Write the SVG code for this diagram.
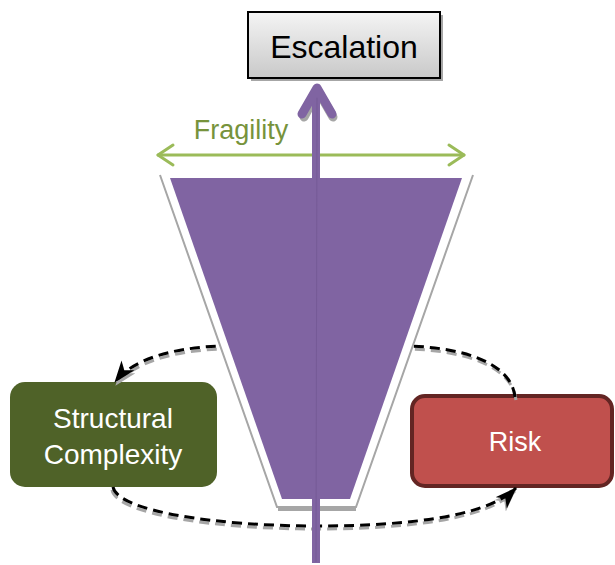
<svg xmlns="http://www.w3.org/2000/svg" width="615" height="565" viewBox="0 0 615 565">
<defs>
<style>
.t{font-family:"Liberation Sans",Arial,sans-serif;text-anchor:middle}
.dash{fill:none;stroke:#000;stroke-width:3;stroke-dasharray:10 6}
.dsh{fill:none;stroke:#a6a6a6;stroke-width:3;stroke-dasharray:10 6}
</style>
<linearGradient id="gEsc" x1="0" y1="0" x2="0" y2="1">
<stop offset="0" stop-color="#f4f4f4"/>
<stop offset="1" stop-color="#c9c9c9"/>
</linearGradient>
<marker id="ah" viewBox="0 0 22 16" refX="21" refY="8" markerWidth="22" markerHeight="16" markerUnits="userSpaceOnUse" orient="auto">
<path d="M0,0 L22,8 L0,16 L6,8 z" fill="#000"/>
</marker>
<marker id="ahs" viewBox="0 0 22 16" refX="21" refY="8" markerWidth="22" markerHeight="16" markerUnits="userSpaceOnUse" orient="auto">
<path d="M0,0 L22,8 L0,16 L6,8 z" fill="#a6a6a6"/>
</marker>
<path id="arcTop" d="M515,397 C511,362 462,348 410,346 L220,346 C170,348 132,360 115,382"/>
<path id="arcBot" d="M113,487 C118,512 220,526 316,526 C420,526 490,514 516,488"/>
</defs>
<rect width="615" height="565" fill="#fff"/>

<g id="structural-complexity">
<rect x="10" y="382" width="207" height="105" rx="15" fill="#4f6228"/>
<text class="t" x="113" y="428" font-size="28" fill="#fff">Structural</text>
<text class="t" x="113" y="464" font-size="28" fill="#fff">Complexity</text>
</g>

<g id="risk">
<rect x="412" y="396" width="200" height="90" rx="13" fill="#c0504d" stroke="#632523" stroke-width="4"/>
<text class="t" x="515" y="451" font-size="27" fill="#fff">Risk</text>
</g>

<g id="connectors">
<use href="#arcTop" class="dsh" transform="translate(1,3)" marker-end="url(#ahs)"/>
<use href="#arcTop" class="dash" marker-end="url(#ah)"/>
<use href="#arcBot" class="dsh" transform="translate(-1,3)" marker-end="url(#ahs)"/>
<use href="#arcBot" class="dash" marker-end="url(#ah)"/>
</g>

<g id="funnel">
<polygon points="160,175 277,508 356,508 473,175" fill="#fff"/>
<polyline points="160,175 277,507 356,507 473,175" fill="none" stroke="#a6a6a6" stroke-width="2"/>
<line x1="278" y1="509.5" x2="356" y2="509.5" stroke="#a6a6a6" stroke-width="3"/>
<polygon points="170,178 462,178 350,499 282,499" fill="#8064a2"/>
</g>

<g id="fragility">
<g fill="none" stroke="#9bbb59" stroke-width="3" stroke-linecap="round" stroke-linejoin="round">
<line x1="158" y1="155" x2="464" y2="155"/>
<polyline points="173,145 158,155 173,165"/>
<polyline points="449,145 464,155 449,165"/>
</g>
<text class="t" x="241" y="139" font-size="27" fill="#77933c">Fragility</text>
</g>

<g id="escalation">
<rect x="251" y="15" width="192" height="66" fill="#a6a6a6"/>
<rect x="248" y="12" width="192" height="66" fill="url(#gEsc)" stroke="#000" stroke-width="2"/>
<text class="t" x="344" y="58" font-size="32" fill="#000">Escalation</text>
</g>

<g id="escalation-arrow">
<polyline points="304,117 318,91 333,117" fill="none" stroke="#a6a6a6" stroke-width="9" stroke-linecap="round" stroke-linejoin="round"/>
<line x1="316" y1="90" x2="316" y2="563" stroke="#8064a2" stroke-width="8"/>
<line x1="317" y1="92" x2="316" y2="562" stroke="#6f5590" stroke-width="1" opacity="0.6"/>
<polyline points="302,114 317,88 332,114" fill="none" stroke="#8064a2" stroke-width="9" stroke-linecap="round" stroke-linejoin="round"/>
</g>
</svg>
